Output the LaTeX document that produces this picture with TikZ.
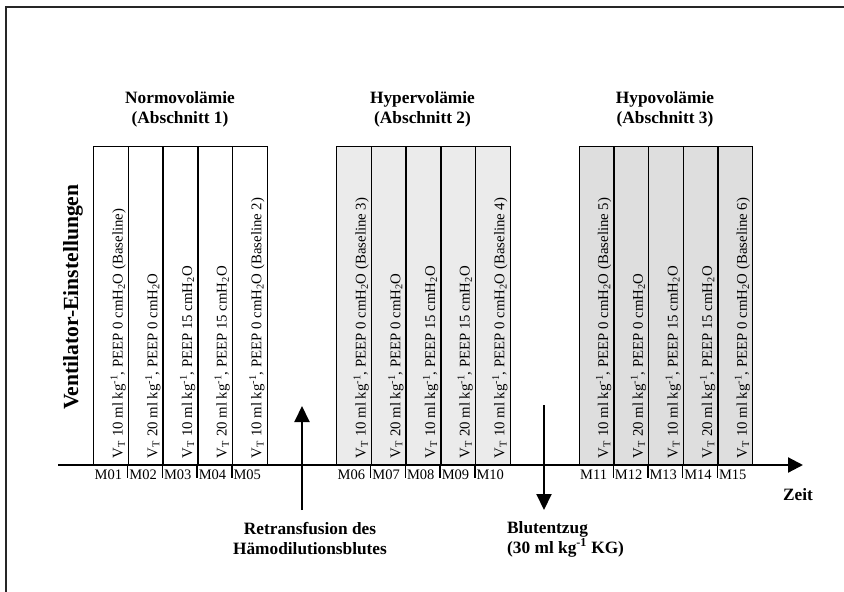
\documentclass[tikz,border=0pt]{standalone}
\usepackage{fontspec}
\setmainfont{Liberation Serif}
\usetikzlibrary{arrows.meta}
\definecolor{hyperfill}{HTML}{EBEBEB}
\definecolor{hypofill}{HTML}{DEDEDE}
\newcommand{\vtset}[2]{V\textsubscript{T} #1 ml kg\textsuperscript{-1}, PEEP #2 cmH\textsubscript{2}O}
\begin{document}
\begin{tikzpicture}[x=1pt,y=-1pt,
  frame/.style={line width=1.6pt,black!85},
  cell/.style={draw=black,line width=1.4pt,minimum width=34.7pt,minimum height=319pt,anchor=north west,inner sep=0pt},
  celltext/.style={rotate=90,anchor=base west,inner sep=0pt,font=\fontsize{14.8}{16}\selectfont},
  mlabel/.style={anchor=base west,inner sep=0pt,font=\fontsize{14.5}{16}\selectfont},
  blabel/.style={align=center,inner sep=0pt,font=\fontsize{17.3}{20}\selectfont\bfseries},
  axisline/.style={line width=2.2pt,-{Triangle[length=15pt,width=15pt]}},
  eventarrow/.style={line width=2pt,-{Triangle[length=16pt,width=15pt]}},
  tick/.style={line width=1.4pt},
]
\useasboundingbox (0,0) rectangle (844,592);
% frame
\draw[frame] (6,600) -- (6,7) -- (850,7);

% boxes
\foreach \g/\x/\fc/\ba/\bb in {1/93/white/{(Baseline)}/{(Baseline 2)},2/336/hyperfill/{(Baseline 3)}/{(Baseline 4)},3/578.5/hypofill/{(Baseline 5)}/{(Baseline 6)}}{
  \foreach \i in {0,...,4}{
    \pgfmathsetmacro\xl{\x+34.7*\i}
    \pgfmathtruncatemacro\m{5*(\g-1)+\i+1}
    \node[cell,fill=\fc] (b\g\i) at (\xl,146) {};
    \node[celltext] (t\g\i) at ([xshift=-6.5pt,yshift=8pt]b\g\i.south east)
      {\ifcase\i \vtset{10}{0} \ba\or \vtset{20}{0}\or \vtset{10}{15}\or \vtset{20}{15}\or \vtset{10}{0} \bb\fi};
    \node[mlabel] (m\g\i) at ([xshift=1.5pt,yshift=-13.5pt]b\g\i.south west) {M\ifnum\m<10 0\fi\m};
    \ifnum\i>0 \draw[tick] (b\g\i.south west) -- ++(0,12); \fi
  }
}

% group titles
\node[blabel,anchor=north] (g1) at (180,91) {Normovolämie\\(Abschnitt 1)};
\node[blabel,anchor=north] (g2) at (422.5,91) {Hypervolämie\\(Abschnitt 2)};
\node[blabel,anchor=north] (g3) at (665,91) {Hypovolämie\\(Abschnitt 3)};

% y label
\node[rotate=90,anchor=base west,inner sep=0pt,font=\fontsize{21.6}{24}\selectfont\bfseries] (ylab) at (78,410) {Ventilator-Einstellungen};

% time axis
\coordinate (axs) at (58,465);
\coordinate (axe) at (803,465);
\draw[axisline] (axs) -- (axe);
\node[anchor=base,inner sep=0pt,font=\fontsize{17.3}{20}\selectfont\bfseries] (zeit) at (798,500) {Zeit};

% events
\coordinate (rt0) at (302,510);
\coordinate (rt1) at (302,406);
\draw[eventarrow] (rt0) -- (rt1);
\node[blabel,anchor=north] (retr) at (310,522) {Retransfusion des\\Hämodilutionsblutes};

\coordinate (bz0) at (544,405);
\coordinate (bz1) at (544,510);
\draw[eventarrow] (bz0) -- (bz1);
\node[blabel,align=left,anchor=north west] (blut) at (507,521) {Blutentzug\\(30 ml kg\textsuperscript{-1} KG)};
\end{tikzpicture}
\end{document}
